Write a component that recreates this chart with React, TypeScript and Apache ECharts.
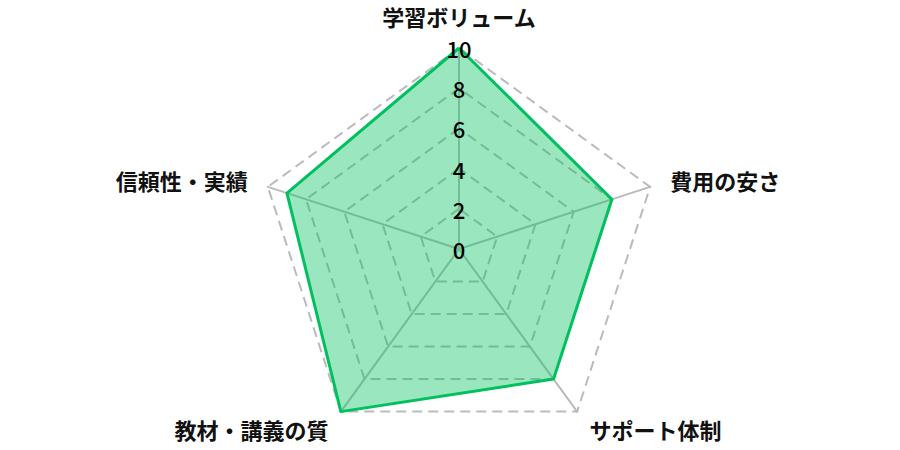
import { useEffect, useRef } from 'react';
import * as echarts from 'echarts';

// listed counter-clockwise from the top, the way ECharts lays out radar axes
const indicatorNames = ['学習ボリューム', '信頼性・実績', '教材・講義の質', 'サポート体制', '費用の安さ'];
const scores = [10, 9, 10, 8, 8];
const maxScore = 10;

const center = [459, 249];
const radius = 201;

const App = () => {
    const chartRef = useRef<HTMLDivElement>(null);

    useEffect(() => {
        if (!chartRef.current) return;
        const chart = echarts.init(chartRef.current, null, { renderer: 'svg' });

        const labelStyle = {
            margin: 0,
            align: 'center',
            verticalAlign: 'middle',
            rotate: 0,
            color: '#000',
            fontSize: 22,
            fontWeight: 500,
            fontFamily: 'Noto Sans CJK JP',
            showMinLabel: true,
            showMaxLabel: true
        };

        chart.setOption({
            animation: false,
            radar: [
                {
                    center,
                    radius,
                    startAngle: 90,
                    splitNumber: 5,
                    shape: 'polygon',
                    nameGap: 21,
                    axisName: {
                        color: '#111',
                        fontSize: 22,
                        fontWeight: 'bold',
                        fontFamily: 'Noto Sans CJK JP'
                    },
                    indicator: indicatorNames.map(name => ({ name, min: 0, max: maxScore })),
                    axisLabel: { show: false },
                    axisLine: { lineStyle: { color: '#bbb', width: 2 } },
                    axisTick: { show: false },
                    splitLine: { lineStyle: { color: '#bbb', width: 2, type: [10, 6] } },
                    splitArea: { show: false }
                },
                {
                    // overlay radar that only carries the tick labels, above the filled area
                    z: 10,
                    center,
                    radius,
                    startAngle: 90,
                    splitNumber: 5,
                    shape: 'polygon',
                    axisName: { show: false },
                    indicator: indicatorNames.map((name, i) => ({
                        name,
                        min: 0,
                        max: maxScore,
                        axisLabel: { show: i === 0 }
                    })),
                    axisLabel: { ...labelStyle, show: false },
                    axisLine: { show: false },
                    axisTick: { show: false },
                    splitLine: { show: false },
                    splitArea: { show: false }
                }
            ],
            series: [
                {
                    type: 'radar',
                    radarIndex: 0,
                    symbol: 'none',
                    lineStyle: { color: '#00c060', width: 3 },
                    areaStyle: { color: '#00c060', opacity: 0.4 },
                    data: [{ value: scores, name: 'score' }]
                }
            ]
        });

        return () => {
            chart.dispose();
        };
    }, []);

    return <div ref={chartRef} style={{ position: 'absolute', left: 0, top: 0, width: 900, height: 450 }} />;
};

export default App;
